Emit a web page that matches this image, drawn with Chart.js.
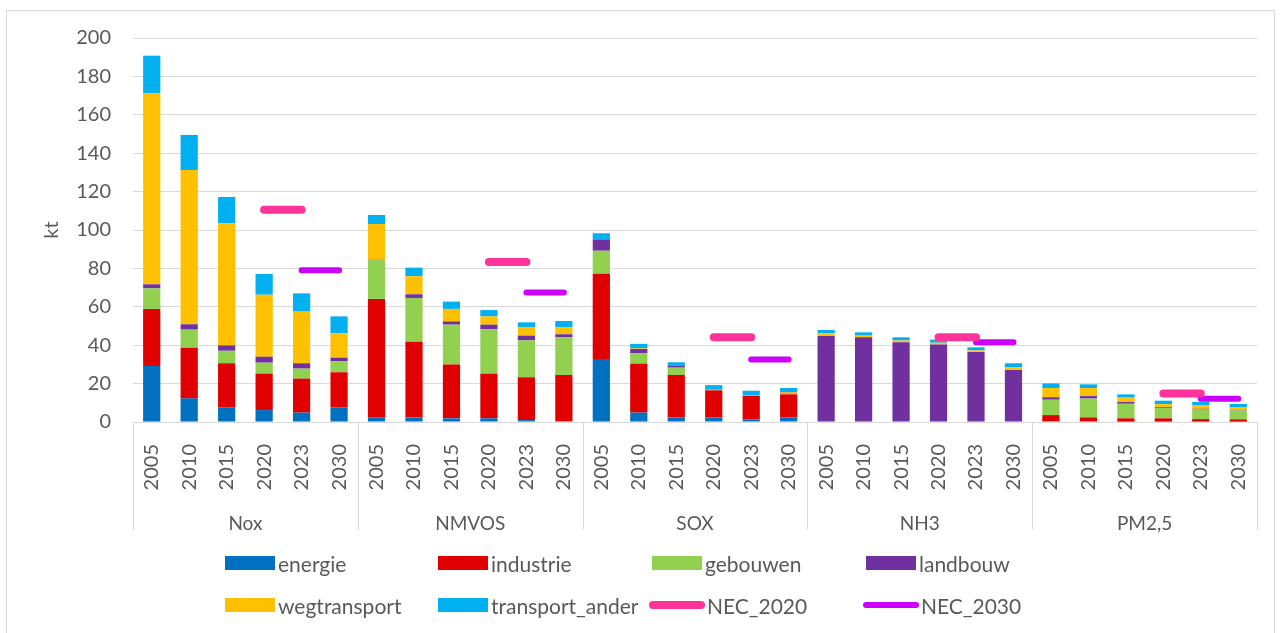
<!DOCTYPE html>
<html>
<head>
<meta charset="utf-8">
<script src="https://cdn.jsdelivr.net/npm/chart.js@4/dist/chart.umd.min.js"></script>
<style>
  html, body { margin: 0; padding: 0; background: #fff; }
  #wrap { position: relative; width: 1282px; height: 633px; overflow: hidden; }
  #frame { position: absolute; left: 6px; top: 10px; width: 1269px; height: 640px; border: 1px solid #d9d9d9; box-sizing: border-box; }
  #c { position: absolute; left: 0; top: 0; }
  #legend { position: absolute; left: 0; top: 0; width: 1282px; height: 633px; pointer-events: none; }
  .item { position: absolute; display: flex; align-items: center; font-family: Lato, sans-serif; font-size: 21px; color: #595959; white-space: nowrap; height: 24px; }
  .box { width: 50px; height: 14px; margin-right: 3px; }
  .ln { width: 56px; height: 8px; border-radius: 4px; margin-right: 2px; }
</style>
</head>
<body>
<div id="wrap">
  <div id="frame"></div>
  <canvas id="c" width="1282" height="633"></canvas>
  <div id="legend"></div>
</div>
<script>
const groups = ['Nox', 'NMVOS', 'SOX', 'NH3', 'PM2,5'];
const years = ['2005', '2010', '2015', '2020', '2023', '2030'];
const yTicks = [0, 20, 40, 60, 80, 100, 120, 140, 160, 180, 200];

const energie = [29.2, 12.3, 7.5, 6.2, 4.9, 7.5, 2.4, 2.3, 1.9, 1.9, 1.0, 0.5, 32.8, 4.9, 2.3, 2.3, 1.4, 2.3, 0, 0, 0, 0, 0, 0, 0.3, 0.3, 0.2, 0.2, 0.2, 0.2];
const industrie = [29.7, 26.4, 23.1, 19.0, 17.7, 18.4, 61.7, 39.5, 28.0, 23.3, 22.3, 24.0, 44.4, 25.5, 22.2, 14.2, 12.2, 12.1, 0, 0, 0, 0, 0, 0, 3.3, 2.1, 1.7, 1.7, 1.3, 1.2];
const gebouwen = [10.7, 9.4, 6.5, 5.7, 5.2, 5.7, 20.1, 22.8, 20.8, 23.1, 19.2, 19.6, 12.0, 5.5, 3.8, 0.3, 0.2, 0.5, 0, 0, 0, 0, 0, 0, 8.0, 9.8, 7.6, 5.4, 5.0, 4.6];
const landbouw = [2.1, 2.8, 2.8, 3.1, 2.8, 1.9, 0.3, 1.9, 1.7, 2.4, 2.5, 1.6, 5.9, 2.1, 0.9, 0.2, 0.1, 0.3, 44.8, 44.1, 41.5, 40.4, 36.5, 27.1, 1.3, 1.3, 0.9, 0.4, 0.4, 0.3];
const wegtransport = [99.5, 80.3, 63.6, 32.3, 26.9, 12.7, 18.6, 9.4, 6.5, 4.3, 4.5, 3.8, 0, 0.3, 0, 0, 0, 0.4, 1.4, 0.9, 1.0, 0.9, 0.8, 1.5, 4.8, 4.2, 2.3, 1.6, 1.7, 1.5];
const transport_ander = [19.6, 18.3, 13.7, 10.8, 9.5, 8.8, 4.7, 4.5, 3.8, 3.3, 2.4, 3.1, 3.2, 2.4, 1.9, 2.2, 2.4, 2.1, 1.7, 1.7, 1.6, 1.6, 1.6, 2.0, 2.4, 1.9, 1.7, 1.8, 1.9, 1.6];
const nec2020 = [110.6, 83.3, 44.1, 44.1, 14.9];
const nec2030 = [79.0, 67.5, 32.6, 41.5, 12.1];

// category labels: every year for every pollutant
const labels = [];
groups.forEach(() => years.forEach(y => labels.push(y)));

// NEC target lines: drawn from one year to the next in each group
function necSeries(vals, fromYear, toYear) {
  const out = [];
  groups.forEach((g, gi) => years.forEach(y => {
    out.push(y === fromYear || y === toYear ? vals[gi] : null);
  }));
  return out;
}

const FONT = 'Lato, sans-serif';
const GREY = '#595959';
const GRID = '#d9d9d9';

const barDefs = [
  ['energie', energie, '#0070C0'],
  ['industrie', industrie, '#E00000'],
  ['gebouwen', gebouwen, '#92D050'],
  ['landbouw', landbouw, '#7030A0'],
  ['wegtransport', wegtransport, '#FFC000'],
  ['transport_ander', transport_ander, '#00B0F0']
];
const datasets = barDefs.map(([name, data, color]) => ({
  type: 'bar', label: name, data: data, backgroundColor: color, borderWidth: 0,
  stack: 'emis', order: 1, barPercentage: 0.46, categoryPercentage: 1.0
}));
datasets.push({
  type: 'line', label: 'NEC_2020', data: necSeries(nec2020, '2020', '2023'),
  borderColor: '#FF3399', backgroundColor: '#FF3399', borderWidth: 8, borderCapStyle: 'round',
  pointRadius: 0, spanGaps: false, stack: 'n1', order: 0, legendW: 8
});
datasets.push({
  type: 'line', label: 'NEC_2030', data: necSeries(nec2030, '2023', '2030'),
  borderColor: '#CC00FF', backgroundColor: '#CC00FF', borderWidth: 6, borderCapStyle: 'round',
  pointRadius: 0, spanGaps: false, stack: 'n2', order: 0, legendW: 6
});

const separators = {
  id: 'separators',
  afterDraw(chart) {
    const xs = chart.scales.x;
    const ctx = chart.ctx;
    const step = (xs.right - xs.left) / labels.length;
    ctx.save();
    ctx.strokeStyle = GRID;
    ctx.lineWidth = 1;
    for (let g = 0; g <= groups.length; g++) {
      const x = Math.round(xs.left + g * years.length * step) + 0.5;
      ctx.beginPath();
      ctx.moveTo(x, chart.chartArea.bottom);
      ctx.lineTo(x, chart.scales.x2.bottom - 7);
      ctx.stroke();
    }
    ctx.restore();
  }
};

const chart = new Chart(document.getElementById('c'), {
  data: { labels: labels, datasets: datasets },
  plugins: [separators],
  options: {
    responsive: false,
    animation: false,
    layout: { padding: { left: 0, right: 25, top: 38, bottom: 96 } },
    plugins: { legend: { display: false }, tooltip: { enabled: false } },
    scales: {
      x: {
        type: 'category', position: 'bottom', stacked: true, offset: true,
        grid: { display: false },
        border: { display: true, color: GRID, width: 1 },
        ticks: { color: GREY, font: { family: FONT, size: 20 }, minRotation: 90, maxRotation: 90, padding: 14, autoSkip: false },
        afterFit(s) { s.height = 75; }
      },
      x2: {
        type: 'category', position: 'bottom', labels: groups, offset: true,
        grid: { display: false }, border: { display: false },
        ticks: { color: GREY, font: { family: FONT, size: 19 }, padding: 7 },
        afterFit(s) { s.height = 40; }
      },
      y: {
        type: 'linear', stacked: true, min: 0, max: 200,
        afterBuildTicks(s) { s.ticks = yTicks.map(v => ({ value: v })); },
        grid: { color: GRID, lineWidth: 1, drawTicks: false },
        border: { display: false },
        ticks: { color: GREY, font: { family: FONT, size: 20 }, padding: 22 },
        title: { display: true, text: 'kt', color: GREY, font: { family: FONT, size: 20 }, padding: { top: 40, bottom: 0 } },
        afterFit(s) { s.width = 133; }
      }
    }
  }
});

// HTML legend built from the chart's datasets
const cols = [225, 438, 652, 866];
const rows = [551, 593];
const leg = document.getElementById('legend');
chart.data.datasets.forEach((ds, i) => {
  const el = document.createElement('div');
  el.className = 'item';
  el.style.left = (ds.type === 'line' ? cols[i % 4] - 3 : cols[i % 4]) + 'px';
  el.style.top = rows[Math.floor(i / 4)] + 'px';
  const sw = document.createElement('span');
  if (ds.type === 'line') {
    sw.className = 'ln';
    sw.style.height = ds.legendW + 'px';
    sw.style.borderRadius = (ds.legendW / 2) + 'px';
  } else {
    sw.className = 'box';
  }
  sw.style.background = ds.backgroundColor;
  el.appendChild(sw);
  const t = document.createElement('span');
  t.textContent = ds.label;
  el.appendChild(t);
  leg.appendChild(el);
});
</script>
</body>
</html>
